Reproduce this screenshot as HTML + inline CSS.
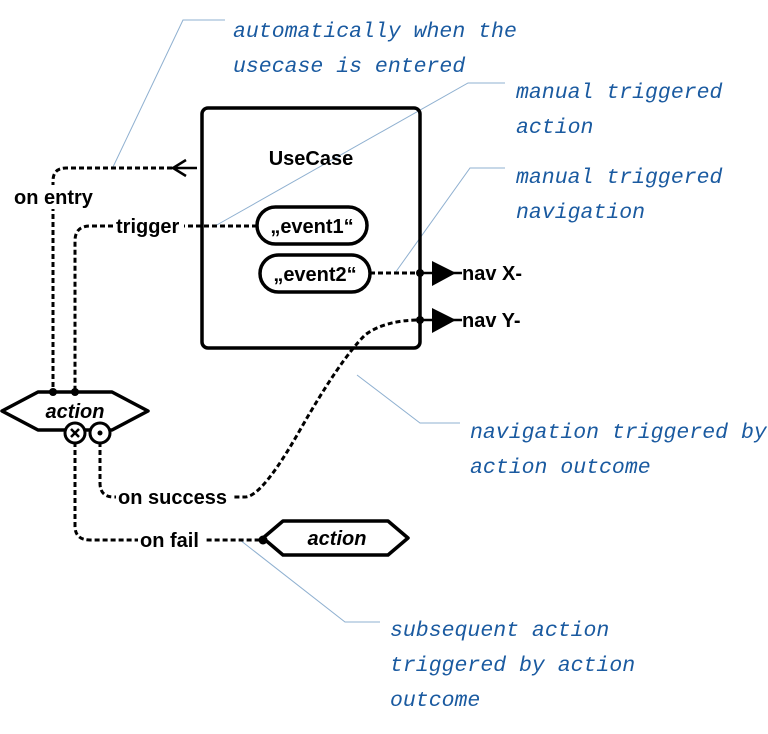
<!DOCTYPE html>
<html><head><meta charset="utf-8"><style>
html,body{margin:0;padding:0;background:#fff;}
svg{display:block;}
.b{font-family:"Liberation Sans",sans-serif;font-weight:bold;font-size:20px;fill:#000;}
.n{font-family:"Liberation Mono",monospace;font-style:italic;font-size:21.5px;fill:#1a5aa0;}
.d{fill:none;stroke:#000;stroke-width:3;stroke-dasharray:5 3;}
.l{fill:none;stroke:#8fb0d0;stroke-width:1;}
</style></head><body>
<svg width="768" height="734" viewBox="0 0 768 734" xmlns="http://www.w3.org/2000/svg">
<path class="l" d="M225 20 H183 L113 167"/>
<path class="l" d="M505 83 H468 L215 226"/>
<path class="l" d="M505 168 H470 L395 273"/>
<path class="l" d="M460 423 H420 L357 375"/>
<path class="l" d="M380 622 H345 L240 540"/>
<rect x="202" y="108" width="218" height="240" rx="6" fill="none" stroke="#000" stroke-width="3.5"/>
<text class="b" x="311" y="165" text-anchor="middle">UseCase</text>
<rect x="257" y="207" width="110" height="37" rx="18.5" fill="#fff" stroke="#000" stroke-width="3.5"/>
<text class="b" x="312" y="233" text-anchor="middle">„event1“</text>
<rect x="260" y="255" width="110" height="37" rx="18.5" fill="#fff" stroke="#000" stroke-width="3.5"/>
<text class="b" x="315" y="281" text-anchor="middle">„event2“</text>
<path class="d" d="M172 168 H66 Q53 168 53 181 V392"/>
<path d="M172 168 H197 M186 160 L173 168 L186 176" fill="none" stroke="#000" stroke-width="2.5"/>
<path class="d" d="M257 226 H90 Q75 226 75 241 V392"/>
<path class="d" d="M370 273 H420"/>
<path class="d" d="M100 442 V483 Q100 497 114 497 H245 Q262 497 300 430 Q340 360 365 335 Q385 320 420 320"/>
<path class="d" d="M75 442 V526 Q75 540 90 540 H263"/>
<rect x="12" y="185" width="86" height="24" fill="#fff"/>
<text class="b" x="14" y="204">on entry</text>
<rect x="114" y="214" width="70" height="24" fill="#fff"/>
<text class="b" x="116" y="233">trigger</text>
<rect x="116" y="485" width="116" height="24" fill="#fff"/>
<text class="b" x="118" y="504">on success</text>
<rect x="138" y="528" width="66" height="24" fill="#fff"/>
<text class="b" x="140" y="547">on fail</text>
<circle cx="420" cy="273" r="4"/><circle cx="420" cy="320" r="4"/>
<path d="M420 273 H462 M420 320 H462" stroke="#000" stroke-width="2.5"/>
<path d="M432 261 L456 273 L432 286Z M432 308 L456 320 L432 333Z"/>
<text class="b" x="462" y="280">nav X-</text>
<text class="b" x="462" y="327">nav Y-</text>
<path d="M2 411 L38 392 H112 L148 411 L112 430 H38 Z" fill="#fff" stroke="#000" stroke-width="3.5" stroke-linejoin="round"/>
<text class="b" x="75" y="418" text-anchor="middle" font-style="italic">action</text>
<circle cx="53" cy="392" r="4"/><circle cx="75" cy="392" r="4"/>
<circle cx="75" cy="433" r="10" fill="#fff" stroke="#000" stroke-width="3"/>
<path d="M71 429 L79 437 M79 429 L71 437" stroke="#000" stroke-width="2.5"/>
<circle cx="100" cy="433" r="10" fill="#fff" stroke="#000" stroke-width="3"/>
<circle cx="100" cy="433" r="2.5"/>
<path d="M263 538 L283 521 H388 L408 538 L388 555 H283 Z" fill="#fff" stroke="#000" stroke-width="3.5" stroke-linejoin="round"/>
<text class="b" x="337" y="545" text-anchor="middle" font-style="italic">action</text>
<circle cx="263" cy="540" r="4.5"/>
<text class="n" x="233" y="37">automatically when the</text>
<text class="n" x="233" y="72">usecase is entered</text>
<text class="n" x="516" y="98">manual triggered</text>
<text class="n" x="516" y="133">action</text>
<text class="n" x="516" y="183">manual triggered</text>
<text class="n" x="516" y="218">navigation</text>
<text class="n" x="470" y="438">navigation triggered by</text>
<text class="n" x="470" y="473">action outcome</text>
<text class="n" x="390" y="636">subsequent action</text>
<text class="n" x="390" y="671">triggered by action</text>
<text class="n" x="390" y="706">outcome</text>
</svg>
</body></html>
